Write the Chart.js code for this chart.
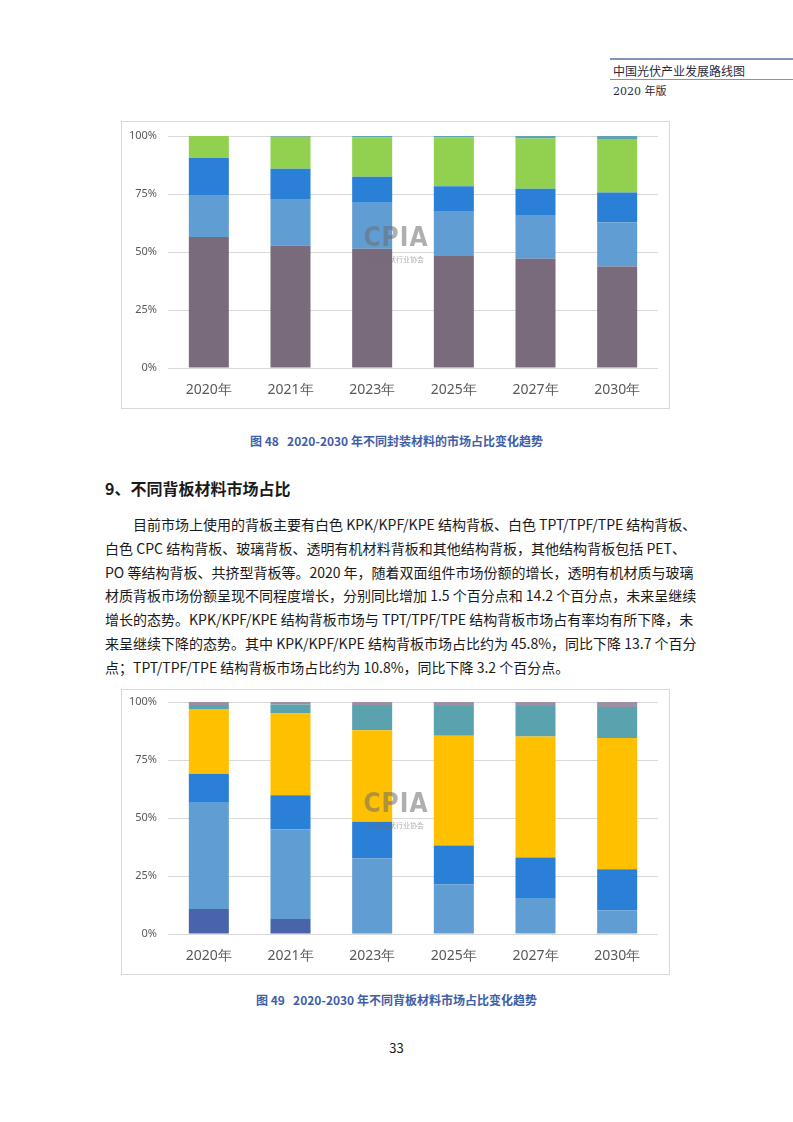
<!DOCTYPE html>
<html>
<head>
<meta charset="utf-8">
<script src="https://cdn.jsdelivr.net/npm/chart.js@4.4.0/dist/chart.umd.min.js"></script>
<style>
  body { margin: 0; background: #fff; font-family: "Noto Sans CJK SC", "Noto Sans", sans-serif; color: #1a1a1a; }
  .page { position: relative; width: 793px; height: 1122px; overflow: hidden; }
  .abs { position: absolute; }
  .hline { position: absolute; left: 610px; right: 0; height: 0; border-top: 2px solid #8193bb; }
  .hdr { position: absolute; left: 613px; font-family: "DejaVu Serif", "Noto Sans CJK SC", serif; color: #2b2b3b; white-space: nowrap; }
  .frame { position: absolute; left: 121px; width: 549px; border: 1px solid #d9d9d9; box-sizing: border-box; }
  .frame canvas { display: block; }
  .cap { position: absolute; left: 0; width: 793px; text-align: center; font-size: 12px; font-weight: bold; color: #3f5ea8; white-space: pre; }
  .h2 { position: absolute; left: 105px; top: 476px; font-size: 16px; font-weight: bold; line-height: 24px; }
  .body { position: absolute; left: 105px; top: 513px; width: 581px; font-size: 14px; line-height: 23.8px; }
  .ln { text-align: justify; text-align-last: justify; white-space: nowrap; }
  .ln.last { text-align-last: left; }
  .wm { position: absolute; width: 120px; text-align: center; color: rgba(110,110,110,0.55); pointer-events: none; }
  .wm .big { font-family: "DejaVu Sans Condensed", "DejaVu Sans", sans-serif; font-weight: bold; font-size: 26px; line-height: 28px; letter-spacing: 1px; }
  .wm .small { font-size: 7px; line-height: 9px; margin-top: 4px; }
</style>
</head>
<body>
<div class="page">
  <div class="hline" style="top:58px;"></div>
  <div class="hdr" style="top:62px;font-size:12px;">中国光伏产业发展路线图</div>
  <div class="hline" style="top:79px;border-top-width:1px;"></div>
  <div class="hdr" style="top:82px;font-size:11px;">2020 年版</div>

  <div class="frame" style="top:121px;height:288px;"><canvas id="c1" width="547" height="286"></canvas></div>
  <div class="wm" style="left:336px;top:223px;"><div class="big">CPIA</div><div class="small">中国光伏行业协会</div></div>
  <div class="cap" style="top:432px;">图 48   2020-2030 年不同封装材料的市场占比变化趋势</div>

  <div class="h2">9、不同背板材料市场占比</div>
  <div class="body">
    <div class="ln" style="padding-left:28px;">目前市场上使用的背板主要有白色 KPK/KPF/KPE 结构背板、白色 TPT/TPF/TPE 结构背板、</div>
    <div class="ln">白色 CPC 结构背板、玻璃背板、透明有机材料背板和其他结构背板，其他结构背板包括 PET、</div>
    <div class="ln">PO 等结构背板、共挤型背板等。2020 年，随着双面组件市场份额的增长，透明有机材质与玻璃</div>
    <div class="ln">材质背板市场份额呈现不同程度增长，分别同比增加 1.5 个百分点和 14.2 个百分点，未来呈继续</div>
    <div class="ln">增长的态势。KPK/KPF/KPE 结构背板市场与 TPT/TPF/TPE 结构背板市场占有率均有所下降，未</div>
    <div class="ln">来呈继续下降的态势。其中 KPK/KPF/KPE 结构背板市场占比约为 45.8%，同比下降 13.7 个百分</div>
    <div class="ln last">点；TPT/TPF/TPE 结构背板市场占比约为 10.8%，同比下降 3.2 个百分点。</div>
  </div>

  <div class="frame" style="top:689px;height:286px;"><canvas id="c2" width="547" height="284"></canvas></div>
  <div class="wm" style="left:336px;top:789px;"><div class="big">CPIA</div><div class="small">中国光伏行业协会</div></div>
  <div class="cap" style="top:991px;">图 49   2020-2030 年不同背板材料市场占比变化趋势</div>

  <div class="abs" style="left:0;width:793px;top:1038px;text-align:center;font-size:13px;">33</div>
</div>

<script>
// --- DATA ---
const years = ['2020年', '2021年', '2023年', '2025年', '2027年', '2030年'];
const yTicks = [0, 25, 50, 75, 100];

// Fig 48: encapsulation materials (%)
const evaClear   = [56.5, 52.8, 51.4, 48.3, 47.1, 43.8];
const evaWhite   = [17.7, 19.7, 19.8, 19.1, 18.8, 19.0];
const poe        = [16.3, 13.4, 11.2, 10.9, 11.4, 12.8];
const epe        = [9.5, 13.8, 17.0, 21.1, 21.6, 23.1];
const encOther   = [0, 0.3, 0.6, 0.6, 1.1, 1.3];

// Fig 49: backsheet materials (%)
const tpt        = [10.8, 6.5, 0.3, 0, 0, 0];
const kpk        = [45.8, 38.5, 32.2, 21.3, 15.2, 10.1];
const cpc        = [12.5, 14.8, 15.9, 16.9, 17.8, 17.8];
const glass      = [27.9, 35.2, 39.4, 47.3, 52.1, 56.6];
const clearOrg   = [1.7, 3.9, 10.9, 12.8, 13.2, 13.3];
const backOther  = [1.3, 1.1, 1.3, 1.7, 1.7, 2.2];

// --- CHARTS ---
function makeChart(id, datasets, topPad) {
    const ds = datasets.map(d => ({
        label: d[0], data: d[1], backgroundColor: d[2],
        borderWidth: 0, barPercentage: 0.49, categoryPercentage: 1
    }));
    return new Chart(document.getElementById(id).getContext('2d'), {
        type: 'bar',
        data: { labels: years, datasets: ds },
        options: {
            responsive: false,
            animation: false,
            layout: { padding: { top: topPad, right: 11, left: 0, bottom: 0 } },
            plugins: { legend: { display: false }, tooltip: { enabled: false } },
            scales: {
                x: {
                    stacked: true,
                    grid: { display: false },
                    border: { display: false },
                    ticks: { color: '#595959', font: { size: 14, family: 'Noto Sans, sans-serif' }, padding: 6 },
                    afterFit: s => { s.height = 40; }
                },
                y: {
                    stacked: true, min: 0, max: 100,
                    afterBuildTicks: s => { s.ticks = yTicks.map(v => ({ value: v })); },
                    grid: { color: '#d9d9d9', drawTicks: false, lineWidth: 1 },
                    border: { display: false },
                    ticks: { color: '#595959', font: { size: 11, family: 'Noto Sans, sans-serif' }, padding: 11,
                             callback: v => v + '%' },
                    // fixed width; let layout padding decide the top edge
                    afterFit: s => { s.width = 46; s.paddingTop = 0; s.paddingBottom = 0; }
                }
            }
        }
    });
}

makeChart('c1', [
    ['透明EVA', evaClear, '#7a6b7c'],
    ['白色EVA', evaWhite, '#609dd2'],
    ['POE', poe, '#2a7fd6'],
    ['共挤型POE', epe, '#92d050'],
    ['其他', encOther, '#5ea3b0']
], 14);

makeChart('c2', [
    ['TPT/TPF/TPE', tpt, '#4a64ac'],
    ['KPK/KPF/KPE', kpk, '#609dd2'],
    ['CPC', cpc, '#2a7fd7'],
    ['玻璃', glass, '#ffc000'],
    ['透明有机材料', clearOrg, '#5aa2ae'],
    ['其他', backOther, '#9d8fa3']
], 12);
</script>
</body>
</html>
